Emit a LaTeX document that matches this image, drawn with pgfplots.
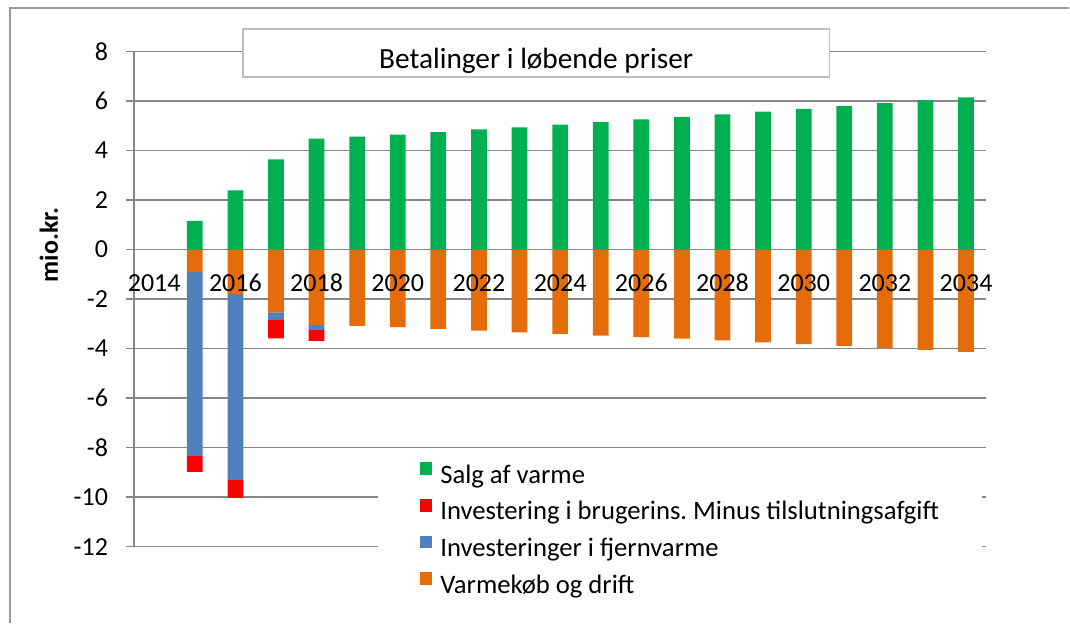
\documentclass[border=0pt]{standalone}
\usepackage{pgfplots}
\pgfplotsset{compat=1.18}
\usepackage{pgfplotstable}
\usepackage{fontspec}
\setmainfont{Carlito}
\frenchspacing
\definecolor{cGreen}{HTML}{00B050}
\definecolor{cRed}{HTML}{FF0000}
\definecolor{cBlue}{HTML}{4F81BD}
\definecolor{cOrange}{HTML}{E46C0A}
\definecolor{cGrid}{HTML}{878787}
\definecolor{cBorder}{HTML}{9A9A9A}
\definecolor{cTitle}{HTML}{BFBFBF}
\pgfplotsset{
  layers/mylayers/.define layer set={axis background,axis grid,axis ticks,axis lines,pre main,main,axis tick labels,axis descriptions,axis foreground}{/pgfplots/layers/standard},
  sqleg/.style={legend image code/.code={\fill[##1] (0pt,1.4pt) rectangle (9.5pt,10.9pt);}},
}

\pgfplotstableread{
year salg inv fjern drift
2015 1.16 -0.64 -7.43 -0.91
2016 2.39 -0.73 -7.50 -1.80
2017 3.65 -0.74 -0.31 -2.54
2018 4.48 -0.45 -0.20 -3.04
2019 4.57 0 0 -3.08
2020 4.65 0 0 -3.13
2021 4.75 0 0 -3.20
2022 4.86 0 0 -3.27
2023 4.94 0 0 -3.34
2024 5.05 0 0 -3.40
2025 5.15 0 0 -3.47
2026 5.26 0 0 -3.54
2027 5.36 0 0 -3.60
2028 5.46 0 0 -3.67
2029 5.58 0 0 -3.75
2030 5.69 0 0 -3.82
2031 5.80 0 0 -3.89
2032 5.92 0 0 -3.97
2033 6.04 0 0 -4.05
2034 6.15 0 0 -4.13
}\data

\begin{document}
\begin{tikzpicture}
\path (0,0) rectangle (802.5pt,467.25pt);
\draw[cBorder, line width=1.1pt] (7.5pt,0) -- (7.5pt,461.25pt) -- (802.5pt,461.25pt);
\begin{axis}[
  set layers=mylayers,
  at={(100.5pt,57pt)}, anchor=south west,
  scale only axis, width=639.75pt, height=371.5pt,
  xmin=2013.5, xmax=2034.5, ymin=-12, ymax=8,
  clip=false,
  axis x line=middle, axis y line=left,
  axis line style={-, cGrid, line width=1.1pt},
  hide obscured x ticks=false,
  ybar stacked, bar width=11.8pt,
  xtick={2014,2016,...,2034},
  xticklabels={2014,2016,2018,2020,2022,2024,2026,2028,2030,2032,2034},
  major x tick style={draw=none},
  extra x ticks={2013.5,2014.5,...,2034.5},
  extra x tick labels={},
  extra x tick style={grid=none, major tick length=6pt, tick align=outside, major x tick style={cGrid, line width=1.1pt}},
  ytick={-12,-10,...,8},
  yticklabels={-12,-10,-8,-6,-4,-2,0,2,4,6,8},
  ymajorgrids, grid style={cGrid, line width=1.1pt},
  tick align=outside, major tick length=6pt,
  major y tick style={cGrid, line width=1.1pt},
  /pgf/number format/assume math mode=true,
  tick label style={font=\fontsize{19.5}{23}\selectfont, text=black},
  yticklabel style={anchor=east, inner sep=0pt, xshift=-13.3pt},
  xticklabel style={anchor=base, inner sep=0pt, yshift=-25.8pt},
  reverse legend,
  legend cell align=left,
  legend style={at={(0.3352,0.170)}, anchor=north west, draw=none, fill=none,
    inner sep=0pt, outer sep=0pt, row sep=7.3pt, column sep=6pt,
    font=\fontsize{20}{24}\selectfont,
    nodes={inner sep=0pt, text height=14pt, text depth=4.5pt}},
]
\addplot[fill=cOrange, draw=none, sqleg] table[x=year,y=drift]{\data};
\addlegendentry{Varmekøb og drift}
\addplot[fill=cBlue, draw=none, sqleg] table[x=year,y=fjern]{\data};
\addlegendentry{Investeringer i fjernvarme}
\addplot[fill=cRed, draw=none, sqleg] table[x=year,y=inv]{\data};
\addlegendentry{Investering i brugerins. Minus tilslutningsafgift}
\addlegendimage{fill=cGreen, draw=none, sqleg}
\addlegendentry{Salg af varme}
\fill[white] (rel axis cs:0.286,0.1918) rectangle (rel axis cs:0.9953,-0.13);
\end{axis}
\begin{axis}[
  at={(100.5pt,57pt)}, anchor=south west,
  scale only axis, width=639.75pt, height=371.5pt,
  xmin=2013.5, xmax=2034.5, ymin=-12, ymax=8,
  axis lines=none, ybar, bar width=11.8pt, bar shift=0pt,
]
\addplot[fill=cGreen, draw=none] table[x=year,y=salg]{\data};
\end{axis}
\draw[cTitle, line width=1.1pt, fill=white] (182.25pt,409.5pt) rectangle (622.5pt,445.5pt);
\node[anchor=base, font=\fontsize{22}{26}\selectfont, inner sep=0pt] at (402.4pt,416pt) {Betalinger i løbende priser};
\node[rotate=90, font=\bfseries\fontsize{19.5}{23}\selectfont] at (36.75pt,283.5pt) {mio.kr.};
\end{tikzpicture}
\end{document}
